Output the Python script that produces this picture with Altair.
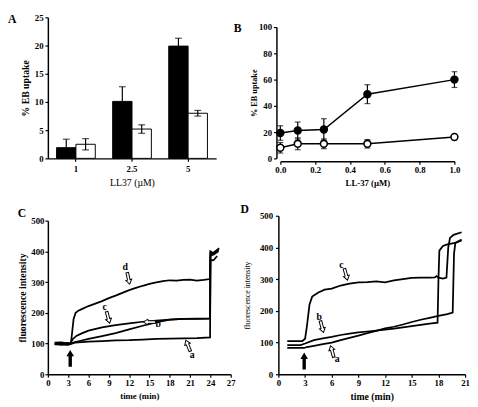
import altair as alt
import pandas as pd

FONT = "Liberation Serif"

# ---------------- Panel A data ----------------
A_CONC = ["1", "2.5", "5"]
A_BLACK = [1.9, 10.1, 19.9]
A_BLACK_ERR = [1.5, 2.6, 1.4]
A_WHITE = [2.5, 5.2, 8.0]
A_WHITE_ERR = [1.0, 0.75, 0.5]

# ---------------- Panel B data ----------------
B_X = [0.0, 0.1, 0.25, 0.5, 1.0]
B_FILLED = [19.3, 21.2, 22.0, 48.9, 60.0]
B_FILLED_ERR = [5.5, 6.5, 8.2, 7.2, 6.0]
B_OPEN = [8.1, 11.1, 11.1, 11.1, 16.3]
B_OPEN_ERR = [4.0, 4.5, 3.7, 3.2, 1.2]

# ---------------- Panel C data ----------------
C_A_T = [1.0, 2.0, 3.0, 3.3, 4.0, 5.0, 6.0, 8.0, 10.0, 12.0, 14.0, 16.0, 18.0, 20.0, 22.0, 23.95, 24.0, 24.5, 25.0]
C_A_V = [98, 96, 97, 98, 103, 105, 106, 108, 110, 111, 113, 115, 116, 117, 118, 120, 370, 372, 385]
C_B_T = [1.0, 2.0, 3.0, 3.3, 4.0, 5.0, 6.0, 8.0, 10.0, 12.0, 14.0, 16.0, 18.0, 20.0, 22.0, 23.95, 24.0, 24.6, 25.2]
C_B_V = [101, 99, 102, 100, 105, 110, 115, 124, 134, 146, 158, 169, 178, 180, 180, 181, 385, 392, 400]
C_C_T = [1.0, 2.0, 3.0, 3.3, 3.7, 4.2, 5.0, 6.0, 8.0, 10.0, 12.0, 14.0, 16.0, 18.0, 20.0, 22.0, 23.95, 24.0, 24.5, 25.2]
C_C_V = [103, 104, 100, 101, 115, 125, 133, 142, 153, 160, 166, 171, 175, 178, 180, 181, 182, 395, 390, 405]
C_D_T = [1.0, 2.0, 3.0, 3.4, 3.6, 3.8, 4.1, 4.5, 5.0, 6.0, 7.0, 8.0, 9.0, 10.0, 11.0, 12.0, 13.0, 14.0, 15.0,
         16.0, 17.0, 18.0, 19.0, 20.0, 21.0, 22.0, 23.0, 23.95, 24.0, 24.4, 25.3]
C_D_V = [97, 99, 96, 100, 140, 180, 200, 207, 212, 222, 230, 238, 248, 256, 265, 274, 281, 288, 294,
         299, 303, 306, 305, 307, 308, 305, 307, 310, 400, 395, 410]
C_LABELS = ["a", "b", "c", "d"]
C_LABEL_T = [21.3, 16.3, 8.4, 11.4]
C_LABEL_V = [62, 162, 219, 349]
C_ARROW_T = [20.7, 15.0, 8.9, 11.9]
C_ARROW_V = [93, 170, 185, 312]
C_ARROW_ANGLE = [158, 90, 345, 348]
C_INJECT_T = [3.3]
C_INJECT_V = [52]

# ---------------- Panel D data ----------------
D_A_T = [1.0, 2.9, 3.2, 4.0, 5.0, 6.0, 7.0, 8.0, 9.0, 10.0, 11.0, 12.0, 13.0, 14.0, 15.0, 16.0, 17.0, 18.0, 19.0,
         19.6, 19.75, 19.9, 20.6]
D_A_V = [83, 83, 86, 90, 95, 100, 108, 115, 122, 130, 137, 145, 150, 157, 165, 172, 178, 184, 190,
         195, 380, 415, 425]
D_B_T = [1.0, 2.5, 3.0, 4.0, 5.0, 6.0, 7.0, 8.0, 9.0, 10.0, 11.0, 12.0, 13.0, 14.0, 15.0, 16.0, 17.0, 17.9,
         18.0, 18.1, 18.5, 19.0, 20.0, 20.6]
D_B_V = [92, 92, 97, 108, 113, 118, 124, 128, 132, 135, 138, 141, 144, 148, 152, 156, 160, 163,
         300, 390, 405, 410, 415, 422]
D_C_T = [1.0, 2.7, 3.0, 3.2, 3.5, 3.8, 4.5, 5.2, 6.0, 7.0, 8.0, 9.0, 10.0, 11.0, 12.0, 13.0, 14.0, 15.0, 16.0,
         17.0, 17.6, 17.8, 18.0, 18.5, 18.9, 19.1, 19.3, 19.7, 20.6]
D_C_V = [105, 105, 112, 150, 220, 245, 258, 267, 270, 280, 286, 290, 291, 293, 290, 296, 300, 304, 305,
         305, 306, 310, 305, 302, 305, 400, 430, 440, 448]
D_LABELS = ["a", "b", "c"]
D_LABEL_T = [6.6, 4.6, 7.1]
D_LABEL_V = [49, 181, 346]
D_ARROW_T = [6.05, 4.9, 7.6]
D_ARROW_V = [72, 150, 315]
D_ARROW_ANGLE = [164, 345, 345]
D_INJECT_T = [2.9]
D_INJECT_V = [42]

HOLLOW = "M-0.22,-1 L0.22,-1 L0.22,0.25 L0.5,0.25 L0,1 L-0.5,0.25 L-0.22,0.25 Z"
SOLID_UP = "M-0.2,1 L0.2,1 L0.2,-0.25 L0.45,-0.25 L0,-1 L-0.45,-0.25 L-0.2,-0.25 Z"


def axis(**kw):
    base = dict(domainColor="black", domainWidth=1.5, tickColor="black", tickWidth=1.2, tickSize=3,
                labelFont=FONT, labelFontWeight="bold", labelFontSize=9, labelColor="black",
                titleFont=FONT, titleFontWeight="bold", titleFontSize=9, titleColor="black",
                grid=False, labelPadding=2, titlePadding=4, labelOverlap=False, labelFlush=False,
                minExtent=0)
    base.update(kw)
    return alt.Axis(**base)


def title(letter, dx=0, dy=0, offset=-4):
    return alt.Title(letter, anchor="start", frame="bounds", font=FONT, fontSize=12, fontWeight="bold",
                     color="black", offset=offset, dx=dx, dy=dy)


# ---------------- Panel A ----------------
dfA = pd.DataFrame({
    "conc": A_CONC * 2,
    "series": ["black"] * 3 + ["white"] * 3,
    "value": A_BLACK + A_WHITE,
    "err": A_BLACK_ERR + A_WHITE_ERR,
})
dfA["lo"] = dfA["value"] - dfA["err"]
dfA["hi"] = dfA["value"] + dfA["err"]

xA = alt.X("conc:N", sort=A_CONC, title="LL37 (µM)",
           scale=alt.Scale(paddingInner=0.31, paddingOuter=0.155),
           axis=axis(labelAngle=0, labelPadding=4, titleFontSize=10, titleFontWeight="normal"))
xoA = alt.XOffset("series:N", scale=alt.Scale(domain=["black", "white"], paddingInner=0, paddingOuter=0))
axisYA = axis(values=[0, 5, 10, 15, 20, 25], titleFontSize=10, titleX=-18)
scaleYA = alt.Scale(domain=[0, 25], padding=0, nice=False)


def yA(field):
    return alt.Y(f"{field}:Q", title="% EB uptake", scale=scaleYA, axis=axisYA)


barsA = alt.Chart(dfA).mark_bar(stroke="black", strokeWidth=1).encode(
    x=xA, xOffset=xoA, y=yA("value"),
    fill=alt.Fill("series:N", scale=alt.Scale(domain=["black", "white"], range=["black", "white"]), legend=None),
)
errA = alt.Chart(dfA).mark_rule(color="black", strokeWidth=1.2).encode(
    x=xA, xOffset=xoA, y=yA("lo"), y2="hi:Q")
capHiA = alt.Chart(dfA).mark_tick(color="black", thickness=1.2, size=7, orient="horizontal").encode(
    x=xA, xOffset=xoA, y=yA("hi"))
capLoA = alt.Chart(dfA).mark_tick(color="black", thickness=1.2, size=7, orient="horizontal").encode(
    x=xA, xOffset=xoA, y=yA("lo"))
panelA = alt.layer(barsA, errA, capHiA, capLoA).properties(
    width=173, height=145, title=title("A", dx=-13, offset=-13))

# ---------------- Panel B ----------------
dfB = pd.DataFrame({
    "x": B_X * 2,
    "series": ["filled"] * 5 + ["open"] * 5,
    "value": B_FILLED + B_OPEN,
    "err": B_FILLED_ERR + B_OPEN_ERR,
})
dfB["lo"] = dfB["value"] - dfB["err"]
dfB["hi"] = dfB["value"] + dfB["err"]

xB = alt.X("x:Q", title="LL-37 (µM)", scale=alt.Scale(domain=[0, 1], padding=0, nice=False),
           axis=axis(values=[0, 0.2, 0.4, 0.6, 0.8, 1.0], format=".1f", offset=3))
axisYB = axis(values=[0, 20, 40, 60, 80, 100], offset=4, titleFontSize=8.5, titleX=-19)
scaleYB = alt.Scale(domain=[0, 100], range=[145, 10], padding=0, nice=False)


def yB(field):
    return alt.Y(f"{field}:Q", title="% EB uptake", scale=scaleYB, axis=axisYB)


lineB = alt.Chart(dfB).mark_line(color="black", strokeWidth=1.5).encode(x=xB, y=yB("value"), detail="series:N")
errB = alt.Chart(dfB).mark_rule(color="black", strokeWidth=1.2).encode(x=xB, y=yB("lo"), y2="hi:Q")
capB1 = alt.Chart(dfB).mark_tick(color="black", thickness=1.2, size=6, orient="horizontal").encode(
    x=xB, y=yB("hi"))
capB2 = alt.Chart(dfB).mark_tick(color="black", thickness=1.2, size=6, orient="horizontal").encode(
    x=xB, y=yB("lo"))
ptsB = alt.Chart(dfB).mark_point(shape="circle", size=50, strokeWidth=1.6, opacity=1, stroke="black").encode(
    x=xB, y=yB("value"),
    fill=alt.Fill("series:N", scale=alt.Scale(domain=["filled", "open"], range=["black", "white"]), legend=None),
)
panelB = alt.layer(lineB, errB, capB1, capB2, ptsB).properties(
    width=179, height=145, title=title("B", dx=-16, dy=5, offset=-13))


# ---------------- Panels C and D ----------------
def curve_frame(names, ts, vs):
    rows = []
    for n, t, v in zip(names, ts, vs):
        for i, (ti, vi) in enumerate(zip(t, v)):
            rows.append({"curve": n, "order": i, "t": ti, "v": vi})
    return pd.DataFrame(rows)


def trace_panel(df, lab_df, arr_df, inj_df, xmax, width, height, top_gap, letter, dx,
                ytitle_size, ytitle_weight, title_x, lpad, xtitle_size):
    x = alt.X("t:Q", title="time (min)", scale=alt.Scale(domain=[0, xmax], nice=False, padding=0),
              axis=axis(values=list(range(0, xmax + 1, 3)), titleFontSize=xtitle_size))
    y = alt.Y("v:Q", title="fluorescence intensity",
              scale=alt.Scale(domain=[0, 500], range=[height, top_gap], nice=False, padding=0),
              axis=axis(values=[0, 100, 200, 300, 400, 500], titleX=title_x, labelPadding=lpad,
                        titleFontSize=ytitle_size, titleFontWeight=ytitle_weight))
    lines = alt.Chart(df).mark_line(color="black", strokeWidth=1.8).encode(
        x=x, y=y, detail="curve:N", order="order:Q")
    arrows = alt.Chart(arr_df).mark_point(shape=HOLLOW, size=150, filled=True, fill="white",
                                          stroke="black", strokeWidth=1, opacity=1).encode(
        x=x, y=y, angle=alt.Angle("angle:Q", scale=None))
    labels = alt.Chart(lab_df).mark_text(font=FONT, fontSize=10, fontWeight="bold", color="black").encode(
        x=x, y=y, text="label:N")
    inj = alt.Chart(inj_df).mark_point(shape=SOLID_UP, size=300, filled=True, color="black", opacity=1).encode(
        x=x, y=y)
    return alt.layer(lines, arrows, labels, inj).properties(width=width, height=height,
                                                            title=title(letter, dx=dx))


dfC = curve_frame(["a", "b", "c", "d"], [C_A_T, C_B_T, C_C_T, C_D_T], [C_A_V, C_B_V, C_C_V, C_D_V])
labC = pd.DataFrame({"t": C_LABEL_T, "v": C_LABEL_V, "label": C_LABELS})
arrC = pd.DataFrame({"t": C_ARROW_T, "v": C_ARROW_V, "angle": C_ARROW_ANGLE})
injC = pd.DataFrame({"t": C_INJECT_T, "v": C_INJECT_V})

dfD = curve_frame(["a", "b", "c"], [D_A_T, D_B_T, D_C_T], [D_A_V, D_B_V, D_C_V])
labD = pd.DataFrame({"t": D_LABEL_T, "v": D_LABEL_V, "label": D_LABELS})
arrD = pd.DataFrame({"t": D_ARROW_T, "v": D_ARROW_V, "angle": D_ARROW_ANGLE})
injD = pd.DataFrame({"t": D_INJECT_T, "v": D_INJECT_V})

panelC = trace_panel(dfC, labC, arrC, injC, 27, 188, 163, 5, "C", 0, 10, "bold", -21, 1, 9)
panelD = trace_panel(dfD, labD, arrD, injD, 21, 192, 163, 0, "D", -3, 8, "normal", -28, 3, 10)

top = alt.hconcat(panelA, panelB, spacing=18)
bottom = alt.hconcat(panelC, panelD, spacing=5)
chart = alt.vconcat(top, bottom, spacing=16).properties(padding=0).configure_view(stroke=None)

chart.save("out.html", embed_options={"renderer": "svg", "actions": False})
